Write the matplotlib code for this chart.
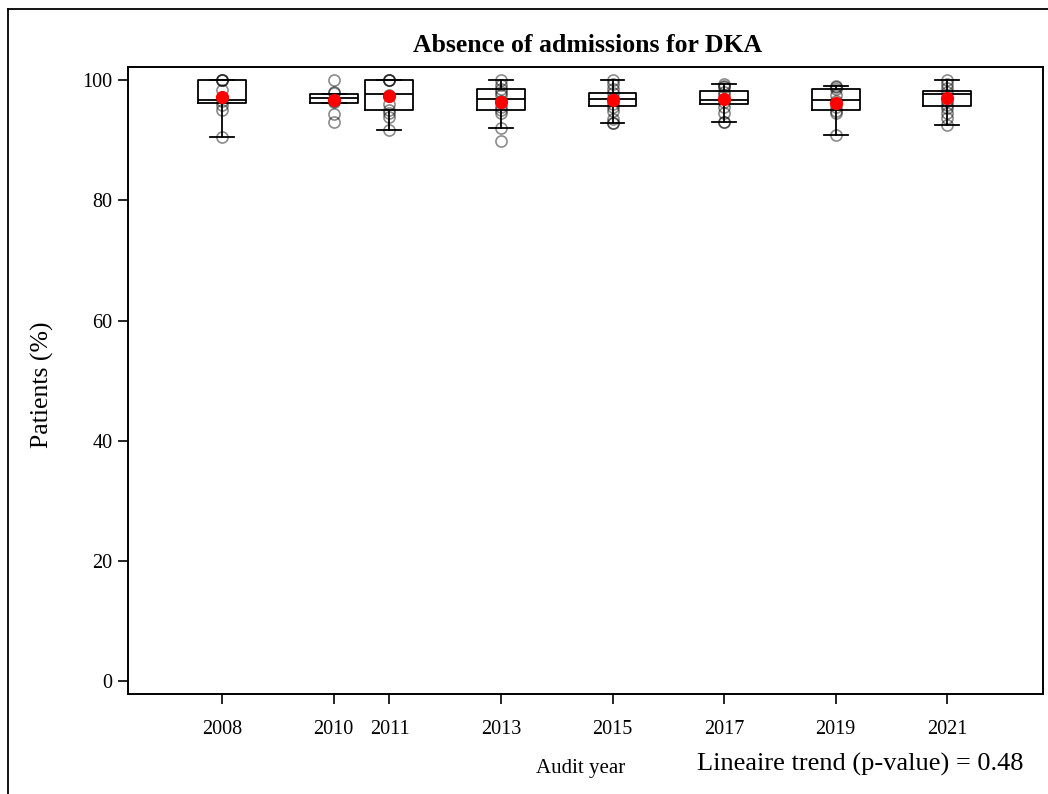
import numpy as np
import matplotlib.pyplot as plt
from matplotlib.lines import Line2D

plt.rcParams['font.family'] = ['Liberation Serif', 'DejaVu Serif']

# Audit years and box summaries (% of patients without DKA admission)
years = [2008, 2010, 2011, 2013, 2015, 2017, 2019, 2021]
q1 = [96.1, 96.2, 95.0, 95.0, 95.7, 96.0, 95.0, 95.6]
medians = [96.7, 97.0, 97.7, 96.8, 96.8, 96.6, 96.7, 97.7]
q3 = [100.0, 97.6, 100.0, 98.45, 97.8, 98.2, 98.45, 98.2]
whisker_lo = [90.6, 96.2, 91.7, 92.1, 92.9, 93.1, 90.85, 92.6]
whisker_hi = [100.0, 97.6, 100.0, 100.0, 100.0, 99.3, 99.05, 100.0]
means = [97.2, 96.7, 97.3, 96.4, 96.6, 96.8, 96.1, 97.05]

# Centre-level values per audit year
centres_2008 = [100, 100, 100, 98.3, 96.5, 95.8, 95.0, 90.6]
centres_2010 = [100, 98.0, 97.9, 96.5, 96.3, 94.3, 93.1]
centres_2011 = [100, 100, 100, 97.5, 96.0, 95.0, 94.5, 93.8, 91.7]
centres_2013 = [100, 99.2, 98.5, 98.0, 97.5, 96.5, 95.5, 95.0, 94.5, 92.1, 89.9]
centres_2015 = [100, 99.4, 98.5, 97.8, 97.0, 96.0, 95.5, 94.8, 93.5, 92.9, 92.9]
centres_2017 = [99.3, 99.0, 98.8, 98.0, 97.5, 96.3, 95.5, 94.5, 93.1, 93.1]
centres_2019 = [99.0, 98.8, 98.5, 97.5, 96.5, 95.5, 94.8, 94.5, 90.85]
centres_2021 = [100, 99.3, 98.7, 98.0, 96.5, 95.8, 95.3, 94.5, 93.6, 92.6]
centres = [centres_2008, centres_2010, centres_2011, centres_2013,
           centres_2015, centres_2017, centres_2019, centres_2021]

p_value = 0.48

fig = plt.figure(figsize=(10.48, 7.94), dpi=100)
ax = fig.add_axes([0.1221, 0.1259, 0.8731, 0.7897])

stats = []
for i in range(len(years)):
    stats.append({'q1': q1[i], 'med': medians[i], 'q3': q3[i],
                  'whislo': whisker_lo[i], 'whishi': whisker_hi[i],
                  'fliers': []})

line = dict(color='black', linewidth=1.3)
ax.bxp(stats, positions=years, widths=0.86, capwidths=0.43,
       showfliers=False, boxprops=line, whiskerprops=line,
       capprops=line, medianprops=line, manage_ticks=False)

# individual centres as open circles
for yr, vals in zip(years, centres):
    ax.plot([yr] * len(vals), vals, linestyle='none', marker='o',
            markersize=8, markerfacecolor='none', markeredgecolor='black',
            markeredgewidth=1.2, alpha=0.45, zorder=3)

ax.plot(years, means, linestyle='none', marker='o', markersize=8.5,
        color='red', zorder=4)

ax.set_xlim(2006.31, 2022.72)
ax.set_ylim(-2.1, 102.16)
ax.set_xticks(years)
ax.set_xticklabels([str(y) for y in years])
ax.set_yticks([0, 20, 40, 60, 80, 100])
ax.tick_params(direction='out', length=7, width=1.2, labelsize=14.5, pad=12)
ax.tick_params(axis='y', pad=4)
for s in ax.spines.values():
    s.set_linewidth(1.4)

fig.text(0.5606, 0.943, 'Absence of admissions for DKA', ha='center',
         va='center', fontsize=18.5, fontweight='bold')
fig.text(0.0401, 0.515, 'Patients (%)', rotation=90, ha='center',
         va='center', fontsize=18.5)
fig.text(0.5544, 0.0327, 'Audit year', ha='center', va='center', fontsize=15)
fig.text(0.665, 0.0378, 'Lineaire trend (p-value) = %.2f' % p_value,
         ha='left', va='center', fontsize=19)

# outer frame
fig.add_artist(Line2D([8 / 1048, 8 / 1048], [0, 1 - 9 / 794],
                      transform=fig.transFigure, color='black', linewidth=1.3))
fig.add_artist(Line2D([8 / 1048, 1], [1 - 9 / 794, 1 - 9 / 794],
                      transform=fig.transFigure, color='black', linewidth=1.3))

fig.savefig('out.png', dpi=100)
